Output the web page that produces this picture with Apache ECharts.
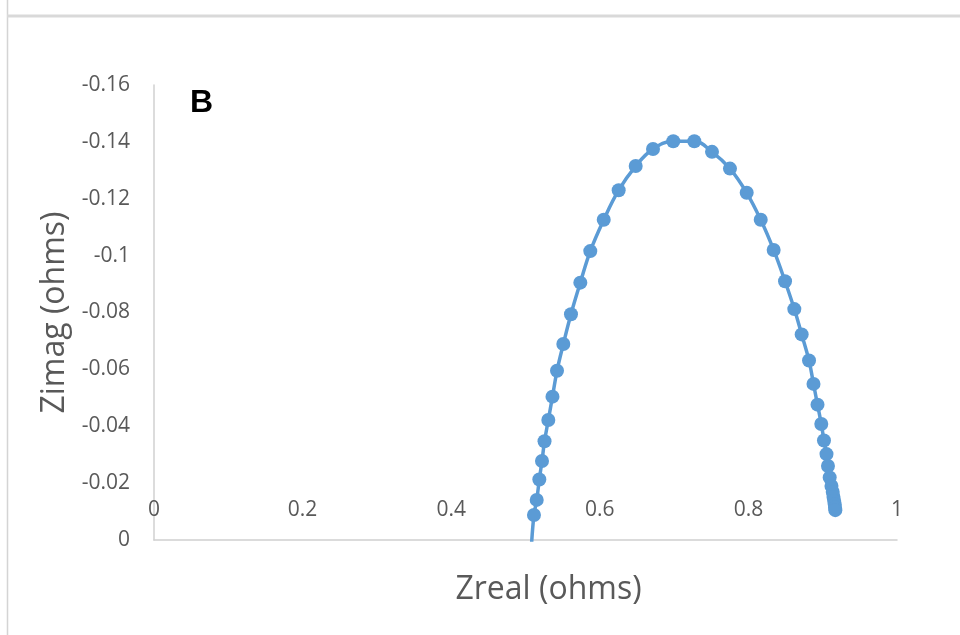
<!DOCTYPE html>
<html>
<head>
<meta charset="utf-8">
<script src="https://cdn.jsdelivr.net/npm/echarts@6/dist/echarts.min.js"></script>
<style>
html,body{margin:0;padding:0;background:#fff;}
#chart{width:960px;height:635px;}
</style>
</head>
<body>
<div id="chart"></div>
<script>
// Zreal (ohms) along the arc, left to right
var zreal = [0.508, 0.5114, 0.5151, 0.5186, 0.5222, 0.5256, 0.5307, 0.5363, 0.5424, 0.5509,
  0.5612, 0.5738, 0.5872, 0.6053, 0.6254, 0.6483, 0.6716, 0.6989, 0.7272, 0.7510,
  0.7752, 0.7977, 0.8166, 0.8340, 0.8493, 0.8618, 0.8717, 0.8816, 0.8876, 0.8930,
  0.8981, 0.9017, 0.9051, 0.9071, 0.9094, 0.9118, 0.9135, 0.9145, 0.9155, 0.9162,
  0.9166, 0.9170];
// Zimag (ohms)
var zimag = [0.002, -0.0088, -0.0141, -0.0213, -0.0278, -0.0347, -0.0422, -0.0504, -0.0595, -0.0689,
  -0.0794, -0.0905, -0.1016, -0.1126, -0.1230, -0.1315, -0.1375, -0.1402, -0.1402, -0.1365,
  -0.1306, -0.1221, -0.1126, -0.1020, -0.0910, -0.0812, -0.0723, -0.0631, -0.0549, -0.0476,
  -0.0408, -0.0350, -0.0302, -0.0260, -0.0220, -0.0190, -0.0169, -0.0151, -0.0137, -0.0125,
  -0.0114, -0.0105];
var xTickLabels = ['0', '0.2', '0.4', '0.6', '0.8', '1'];
var yTickLabels = ['-0.16', '-0.14', '-0.12', '-0.1', '-0.08', '-0.06', '-0.04', '-0.02', '0'];
var xTitle = 'Zreal (ohms)';
var yTitle = 'Zimag (ohms)';
var panelLabel = 'B';

function lookup(labels, v) {
  for (var i = 0; i < labels.length; i++) {
    if (Math.abs(parseFloat(labels[i]) - v) < 1e-6) return labels[i];
  }
  return '';
}

var points = zreal.map(function (x, i) { return [x, zimag[i]]; });
var FONT = '"Open Sans", sans-serif';
var chart = echarts.init(document.getElementById('chart'), null, {renderer: 'canvas'});
chart.setOption({
  animation: false,
  backgroundColor: '#fff',
  grid: {left: 154, right: 63, top: 85, bottom: 95, containLabel: false},
  xAxis: {
    type: 'value', min: 0, max: 1, interval: 0.2,
    name: xTitle, nameLocation: 'middle', nameGap: 50,
    nameTextStyle: {fontFamily: FONT, fontSize: 32, color: '#595959', verticalAlign: 'middle', padding: [0, 0, 0, 46]},
    axisLine: {show: true, onZero: false, lineStyle: {color: '#d0d0d0', width: 1.5}},
    axisTick: {show: false},
    splitLine: {show: false},
    axisLabel: {
      fontFamily: FONT, fontSize: 21, color: '#595959', margin: -30, verticalAlign: 'middle',
      formatter: function (v) { return lookup(xTickLabels, v); }
    }
  },
  yAxis: {
    type: 'value', min: -0.16, max: 0, interval: 0.02, inverse: true,
    name: yTitle, nameLocation: 'middle', nameGap: 99, nameRotate: 90,
    nameTextStyle: {fontFamily: FONT, fontSize: 32, color: '#595959', verticalAlign: 'middle'},
    axisLine: {show: true, onZero: false, lineStyle: {color: '#d0d0d0', width: 1.5}},
    axisTick: {show: false},
    splitLine: {show: false},
    axisLabel: {
      fontFamily: FONT, fontSize: 21, color: '#595959', margin: 24,
      formatter: function (v) { return lookup(yTickLabels, v); }
    }
  },
  graphic: [
    {type: 'line', shape: {x1: 7.5, y1: 0, x2: 7.5, y2: 635}, style: {stroke: '#d4d4d4', lineWidth: 1.5}},
    {type: 'line', shape: {x1: 7, y1: 16, x2: 960, y2: 16}, style: {stroke: '#d9d9d9', lineWidth: 3}},
    {type: 'text', left: 190, top: 87, style: {text: panelLabel, font: 'bold 32px "Liberation Sans", Arial, sans-serif', fill: '#000'}}
  ],
  series: [{
    type: 'line',
    data: points,
    smooth: 0.4,
    clip: true,
    symbol: 'circle',
    symbolSize: 14,
    showAllSymbol: true,
    lineStyle: {color: '#5B9BD5', width: 3.5},
    itemStyle: {color: '#5B9BD5'}
  }]
});
</script>
</body>
</html>
